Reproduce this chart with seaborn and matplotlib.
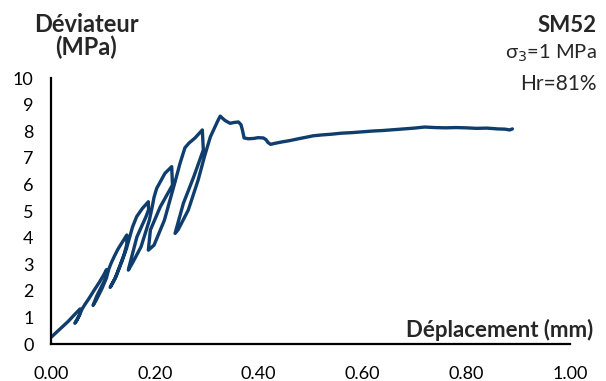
import seaborn as sns
import pandas as pd
import matplotlib.pyplot as plt

# essai cyclique SM52 - partie avant le pic (montée + cycles de décharge/recharge)
dep_cycles = [0.000, 0.012, 0.022, 0.033, 0.045, 0.052, 0.056,
              0.055, 0.050, 0.046,
              0.050, 0.055, 0.060, 0.065,
              0.072, 0.082, 0.093, 0.101, 0.107,
              0.106, 0.097, 0.088, 0.081,
              0.087, 0.0985, 0.107, 0.111, 0.116,
              0.122, 0.129, 0.137, 0.146,
              0.146, 0.1415, 0.125, 0.114,
              0.123, 0.1355, 0.1455, 0.152, 0.157,
              0.165, 0.176, 0.1875,
              0.188, 0.183, 0.1655, 0.1505, 0.149,
              0.157, 0.1735, 0.1895, 0.195, 0.1985,
              0.2035, 0.2195, 0.2325,
              0.234, 0.2105, 0.1915, 0.1875,
              0.1985, 0.2185, 0.231, 0.239, 0.2485,
              0.258, 0.266, 0.2775, 0.2915,
              0.2935, 0.275, 0.255, 0.239,
              0.245, 0.2645, 0.2835, 0.2955, 0.307, 0.322, 0.326]
dev_cycles = [0.25, 0.47, 0.65, 0.85, 1.10, 1.24, 1.32,
              1.10, 0.90, 0.78,
              0.92, 1.10, 1.32, 1.48,
              1.68, 1.99, 2.32, 2.58, 2.80,
              2.50, 2.15, 1.80, 1.45,
              1.65, 2.10, 2.50, 2.80, 3.05,
              3.30, 3.57, 3.82, 4.10,
              3.75, 3.41, 2.53, 2.13,
              2.45, 3.05, 3.60, 4.05, 4.40,
              4.79, 5.10, 5.35,
              5.05, 4.79, 4.03, 2.91, 2.78,
              3.05, 3.66, 4.66, 5.16, 5.52,
              5.85, 6.42, 6.67,
              5.98, 5.16, 4.29, 3.53,
              3.72, 4.66, 5.54, 6.10, 6.79,
              7.38, 7.56, 7.75, 8.05,
              7.30, 6.29, 5.29, 4.16,
              4.30, 5.04, 6.17, 7.04, 7.79, 8.42, 8.57]

# après le pic
dep_post = [0.335, 0.345, 0.352, 0.361, 0.366, 0.369, 0.372, 0.380, 0.390,
            0.399, 0.409, 0.414, 0.418, 0.423, 0.432, 0.445, 0.460, 0.477,
            0.490, 0.505, 0.520, 0.540, 0.560, 0.580, 0.600, 0.620, 0.640,
            0.660, 0.680, 0.700, 0.720, 0.740, 0.760, 0.780, 0.800, 0.820,
            0.840, 0.860, 0.875, 0.884, 0.889]
dev_post = [8.41, 8.30, 8.33, 8.35, 8.25, 8.03, 7.75, 7.72, 7.73,
            7.76, 7.75, 7.69, 7.58, 7.51, 7.55, 7.60, 7.65, 7.72,
            7.77, 7.83, 7.86, 7.89, 7.93, 7.95, 7.98, 8.01, 8.03,
            8.06, 8.09, 8.12, 8.16, 8.14, 8.13, 8.14, 8.13, 8.11,
            8.12, 8.09, 8.08, 8.05, 8.09]

df = pd.DataFrame({"dep": dep_cycles + dep_post, "dev": dev_cycles + dev_post})

sns.set_theme(style="white")
plt.rcParams["font.family"] = ["Lato", "DejaVu Sans"]

fig = plt.figure(figsize=(6.06, 3.81), dpi=100)
ax = fig.add_axes([0.0842, 0.097, 0.8564, 0.698])

sns.lineplot(data=df, x="dep", y="dev", sort=False, estimator=None,
             color="#0f3d6d", linewidth=2.4, ax=ax)

ax.set_xlim(0, 1.0)
ax.set_ylim(0, 10)
ax.set_xticks([0, 0.2, 0.4, 0.6, 0.8, 1.0])
ax.set_xticklabels(["0.00", "0.20", "0.40", "0.60", "0.80", "1.00"])
ax.set_yticks(range(11))
ax.set_xlabel("")
ax.set_ylabel("")
sns.despine(ax=ax)
for s in ["left", "bottom"]:
    ax.spines[s].set_color("black")
    ax.spines[s].set_linewidth(1.6)
ax.tick_params(axis="both", direction="inout", length=9, width=1.6,
               color="black", labelsize=13, labelcolor="black")
ax.tick_params(axis="x", pad=11)
ax.tick_params(axis="y", pad=8)

fig.text(0.142, 0.937, "Déviateur", ha="center", va="center",
         fontsize=17, fontweight="bold")
fig.text(0.142, 0.876, "(MPa)", ha="center", va="center",
         fontsize=17, fontweight="bold")
fig.text(0.985, 0.934, "SM52", ha="right", va="center", fontsize=16, fontweight="bold")
fig.text(0.985, 0.861, r"σ$_3$=1 MPa", ha="right", va="center", fontsize=14.5)
fig.text(0.985, 0.78, "Hr=81%", ha="right", va="center", fontsize=15)
fig.text(0.979, 0.1155, "Déplacement (mm)", ha="right", va="baseline",
         fontsize=16, fontweight="bold")

fig.savefig("out.png", dpi=100)
